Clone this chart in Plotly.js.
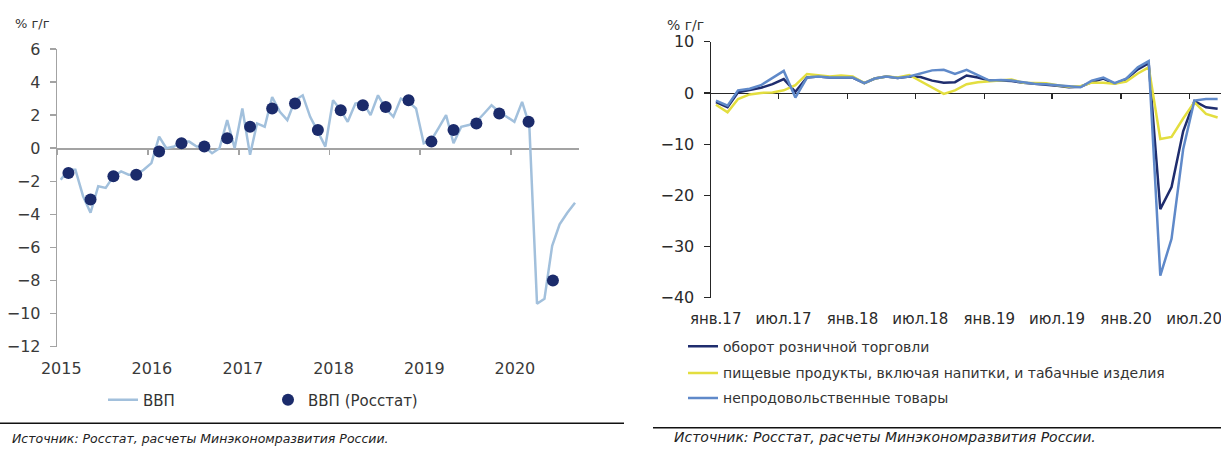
<!DOCTYPE html>
<html><head><meta charset="utf-8">
<script src="https://cdn.plot.ly/plotly-3.0.1.min.js"></script>
<style>html,body{margin:0;padding:0;background:#fff}#chart{width:1221px;height:450px}</style>
</head><body><div id="chart"></div>
<script>
// ---------- DATA ----------
// Left: monthly GDP estimate, Jan 2015 – Sep 2020 (% y/y)
const gdpStart = [2015, 1];
const gdpMonthly = [
  -1.9, -1.3, -1.3, -2.9, -3.9, -2.3, -2.4, -1.7, -1.4, -1.6, -1.6, -1.3,
  -0.9,  0.7,  0.0,  0.1,  0.4,  0.4,  0.1,  0.1, -0.3,  0.0,  1.7,  0.0,
   2.4, -0.4,  1.5,  1.3,  3.1,  2.2,  1.7,  2.9,  3.2,  1.9,  1.0,  0.1,
   2.9,  2.3,  1.6,  2.7,  2.8,  2.0,  3.2,  2.4,  1.9,  3.0,  2.8,  2.4,
   0.3,  0.5,  1.2,  2.0,  0.3,  1.3,  1.4,  1.6,  2.1,  2.6,  2.2,  1.9,
   1.6,  2.8,  1.4, -9.4, -9.1, -5.9, -4.6, -3.9, -3.3
];
// Quarterly GDP (Rosstat)
const rosstatDates = [
  '2015-02-15','2015-05-15','2015-08-15','2015-11-15',
  '2016-02-15','2016-05-15','2016-08-15','2016-11-15',
  '2017-02-15','2017-05-15','2017-08-15','2017-11-15',
  '2018-02-15','2018-05-15','2018-08-15','2018-11-15',
  '2019-02-15','2019-05-15','2019-08-15','2019-11-15',
  '2020-03-12','2020-06-18'
];
const rosstatGdp = [
  -1.5, -3.1, -1.7, -1.6,
  -0.2,  0.3,  0.1,  0.6,
   1.3,  2.4,  2.7,  1.1,
   2.3,  2.6,  2.5,  2.9,
   0.4,  1.1,  1.5,  2.1,
   1.6, -8.0
];
const yearTickDates = ['2015-01-01','2016-01-01','2017-01-01','2018-01-01','2019-01-01','2020-01-01'];
const yearTickLabels = ['2015','2016','2017','2018','2019','2020'];

// Right: retail, Jan 2017 – Sep 2020 (% y/y)
const retailStart = [2017, 1];
const retailTotal = [
  -1.8, -2.8,  0.1,  0.5,  1.0,  1.7,  2.7,  0.2,  3.0,  3.2,  3.0,  3.0,
   3.0,  1.9,  2.8,  3.2,  2.9,  3.2,  3.1,  2.4,  2.0,  2.1,  3.4,  3.0,
   2.4,  2.4,  2.3,  2.0,  1.8,  1.7,  1.4,  1.1,  1.2,  2.1,  2.8,  1.8,
   2.7,  4.6,  5.8, -22.7, -18.4, -7.5, -1.6, -2.8, -3.1
];
const retailFood = [
  -2.3, -3.8, -1.2, -0.3,  0.0,  0.1,  0.5,  1.5,  3.7,  3.5,  3.2,  3.4,
   3.2,  1.9,  2.8,  3.2,  3.0,  3.5,  2.3,  0.9, -0.2,  0.5,  1.7,  2.1,
   2.3,  2.4,  2.6,  2.0,  2.0,  1.9,  1.5,  1.2,  1.3,  2.0,  2.0,  1.8,
   2.2,  3.8,  5.0, -9.0, -8.6, -5.0, -1.8, -4.1, -4.8
];
const retailNonFood = [
  -1.5, -2.5,  0.5,  0.8,  1.5,  3.0,  4.3, -0.9,  3.0,  3.2,  3.0,  3.0,
   3.0,  1.9,  2.8,  3.2,  2.9,  3.2,  3.8,  4.4,  4.5,  3.7,  4.5,  3.4,
   2.4,  2.5,  2.4,  2.1,  1.8,  1.7,  1.5,  1.2,  1.1,  2.4,  3.0,  1.9,
   2.8,  5.0,  6.2, -35.7, -28.5, -11.0, -1.5, -1.2, -1.2
];
const halfYearTickDates = ['2017-01-01','2017-07-01','2018-01-01','2018-07-01','2019-01-01','2019-07-01','2020-01-01','2020-07-01'];
const halfYearTickLabels = ['янв.17','июл.17','янв.18','июл.18','янв.19','июл.19','янв.20','июл.20'];

const seriesNames = {
  gdp: 'ВВП', rosstat: 'ВВП (Росстат)',
  total: 'оборот розничной торговли',
  food: 'пищевые продукты, включая напитки, и табачные изделия',
  nonfood: 'непродовольственные товары'
};

// month-centre dates for a monthly series
function monthDates(start, n) {
  const out = [];
  let y = start[0], m = start[1];
  for (let i = 0; i < n; i++) {
    out.push(y + '-' + String(m).padStart(2, '0') + '-15');
    m++; if (m > 12) { m = 1; y++; }
  }
  return out;
}
const gdpDates = monthDates(gdpStart, gdpMonthly.length);
const retailDates = monthDates(retailStart, retailTotal.length);

// ---------- LAYOUT ----------
const W = 1221, H = 450;
const px = v => v / W;
const py = v => 1 - v / H;
const FONT = 'DejaVu Sans';

const traces = [
  {x: gdpDates, y: gdpMonthly, name: seriesNames.gdp, type: 'scatter', mode: 'lines',
   line: {color: '#a2c0dc', width: 2.5}, xaxis: 'x', yaxis: 'y', legend: 'legend', hoverinfo: 'skip'},
  {x: rosstatDates, y: rosstatGdp, name: seriesNames.rosstat, type: 'scatter', mode: 'markers',
   marker: {color: '#1b2b6b', size: 12}, xaxis: 'x3', yaxis: 'y', legend: 'legend2', hoverinfo: 'skip'},
  {x: retailDates, y: retailTotal, name: seriesNames.total, type: 'scatter', mode: 'lines',
   line: {color: '#1f2d6e', width: 2.5}, xaxis: 'x2', yaxis: 'y2', legend: 'legend3', hoverinfo: 'skip'},
  {x: retailDates, y: retailFood, name: seriesNames.food, type: 'scatter', mode: 'lines',
   line: {color: '#e3de3f', width: 2.5}, xaxis: 'x2', yaxis: 'y2', legend: 'legend4', hoverinfo: 'skip'},
  {x: retailDates, y: retailNonFood, name: seriesNames.nonfood, type: 'scatter', mode: 'lines',
   line: {color: '#5f89c9', width: 2.5}, xaxis: 'x4', yaxis: 'y2', legend: 'legend5', hoverinfo: 'skip'}
];

const leftRange = ['2015-01-01', '2020-10-01'];
const rightRange = ['2017-01-01', '2020-09-24'];
const grayAx = '#a3a3a3';
const darkAx = '#262626';

const legBase = (x, y, size) => ({
  x: px(x), xanchor: 'left', y: py(y), yanchor: 'middle', orientation: 'h',
  bgcolor: 'rgba(0,0,0,0)', borderwidth: 0, font: {family: FONT, size: size, color: '#333'}
});

const layout = {
  width: W, height: H, margin: {l: 0, r: 0, t: 0, b: 0},
  paper_bgcolor: '#fff', plot_bgcolor: 'rgba(0,0,0,0)',
  font: {family: FONT, color: '#333'},
  xaxis: {
    type: 'date', domain: [px(57.25), px(579)], range: leftRange, anchor: 'y',
    tickmode: 'array', tickvals: yearTickDates, ticktext: yearTickLabels,
    ticks: '', showline: false, showgrid: false, zeroline: false,
    tickfont: {family: FONT, size: 16, color: '#3a3a3a'}, ticklabelshift: 4, ticklabelstandoff: 10
  },
  xaxis3: {
    type: 'date', overlaying: 'x', anchor: 'free', position: py(148.2), range: leftRange,
    tickmode: 'array', tickvals: yearTickDates, ticks: 'outside', ticklen: 5, tickcolor: grayAx, tickwidth: 1.5,
    showline: true, linecolor: grayAx, linewidth: 1.5, showticklabels: false,
    showgrid: false, zeroline: false, layer: 'below traces'
  },
  yaxis: {
    domain: [py(346.7), py(49)], range: [-12, 6], dtick: 2, tick0: 0, anchor: 'x',
    ticks: 'outside', ticklen: 6, tickcolor: grayAx, tickwidth: 1.5,
    showline: true, linecolor: grayAx, linewidth: 1.5, showgrid: false, zeroline: false,
    tickfont: {family: FONT, size: 16, color: '#3a3a3a'}, ticklabelstandoff: 6
  },
  xaxis2: {
    type: 'date', domain: [px(710.7), 1], range: rightRange, anchor: 'y2',
    tickmode: 'array', tickvals: halfYearTickDates, ticktext: halfYearTickLabels,
    ticks: '', showline: false, showgrid: false, zeroline: false, ticklabeloverflow: 'allow',
    tickfont: {family: FONT, size: 15, color: '#2a2a2a'}, ticklabelshift: 5, ticklabelstandoff: 10
  },
  xaxis4: {
    type: 'date', overlaying: 'x2', anchor: 'free', position: py(92.9), range: rightRange,
    tickmode: 'array', tickvals: halfYearTickDates, ticks: 'outside', ticklen: 5, tickcolor: darkAx, tickwidth: 1.2,
    showline: true, linecolor: darkAx, linewidth: 1.2, showticklabels: false,
    showgrid: false, zeroline: false, layer: 'below traces'
  },
  yaxis2: {
    domain: [py(297.7), py(41.7)], range: [-40, 10], dtick: 10, tick0: 0, anchor: 'x2',
    ticks: 'outside', ticklen: 6, tickcolor: darkAx, tickwidth: 1.2,
    showline: true, linecolor: darkAx, linewidth: 1.2, showgrid: false, zeroline: false,
    tickfont: {family: FONT, size: 16, color: '#2a2a2a'}, ticklabelstandoff: 6
  },
  legend: legBase(103, 400, 15),
  legend2: legBase(268, 400, 15),
  legend3: legBase(683, 346.7, 14),
  legend4: legBase(683, 373.3, 14),
  legend5: legBase(683, 398.3, 14),
  annotations: [
    {text: '% г/г', xref: 'paper', yref: 'paper', x: px(13), y: py(23), xanchor: 'left', yanchor: 'middle',
     showarrow: false, font: {family: FONT, size: 13, color: '#333'}},
    {text: '% г/г', xref: 'paper', yref: 'paper', x: px(665), y: py(25), xanchor: 'left', yanchor: 'middle',
     showarrow: false, font: {family: FONT, size: 14, color: '#333'}},
    {text: 'Источник: Росстат, расчеты Минэкономразвития России.', xref: 'paper', yref: 'paper',
     x: px(10), y: py(438), xanchor: 'left', yanchor: 'middle', showarrow: false,
     font: {family: FONT, size: 12.5, style: 'italic', color: '#222'}},
    {text: 'Источник: Росстат, расчеты Минэкономразвития России.', xref: 'paper', yref: 'paper',
     x: px(672), y: py(437), xanchor: 'left', yanchor: 'middle', showarrow: false,
     font: {family: FONT, size: 14, style: 'italic', color: '#222'}}
  ],
  shapes: [
    {type: 'line', xref: 'paper', yref: 'paper', x0: 0, x1: px(624), y0: py(423.3), y1: py(423.3),
     line: {color: '#111', width: 1.6}},
    {type: 'line', xref: 'paper', yref: 'paper', x0: px(653), x1: 1, y0: py(427.7), y1: py(427.7),
     line: {color: '#111', width: 1.6}}
  ],
  showlegend: true
};

Plotly.newPlot('chart', traces, layout, {staticPlot: true, displayModeBar: false});
</script>
</body></html>
